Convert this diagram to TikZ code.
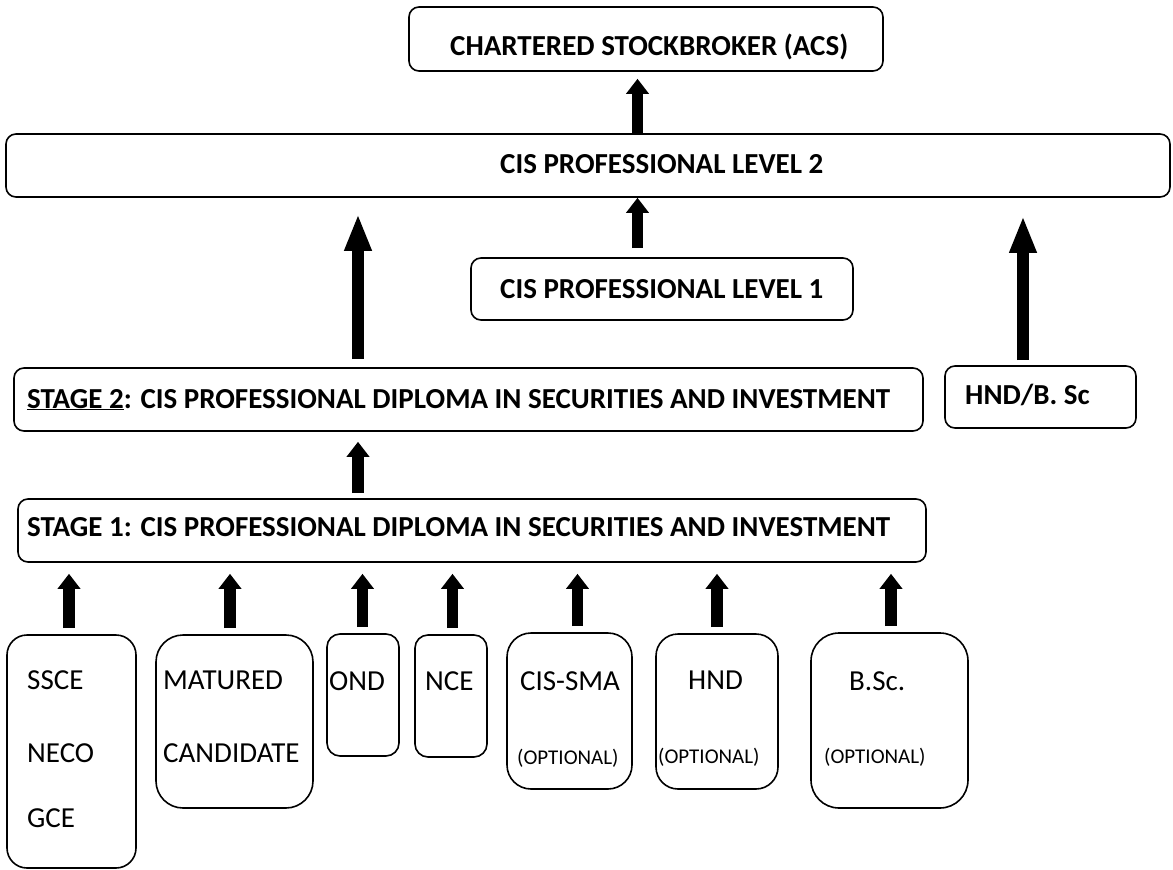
\documentclass[tikz,border=0pt]{standalone}
\usepackage{fontspec}
\setmainfont{Carlito}
\usetikzlibrary{arrows.meta}

\begin{document}
\begin{tikzpicture}[x=1pt,y=-1pt,
  box/.style={draw,line width=1.6pt,rounded corners=10pt,inner sep=0pt},
  hd/.style={anchor=base west,inner sep=0pt,font=\fontsize{29}{34}\selectfont\bfseries},
  lbl/.style={anchor=base west,inner sep=0pt,font=\fontsize{29}{34}\selectfont},
  opt/.style={anchor=base west,inner sep=0pt,font=\fontsize{21}{25}\selectfont},
  uparr/.style={line width=11.5pt,-{Triangle[length=15pt,width=22pt]}},
  bigarr/.style={line width=12.5pt,-{Triangle[length=37pt,width=25pt]}}]
  \useasboundingbox (0,0) rectangle (1173,870);

  % upper levels
  \node[box,minimum width=474,minimum height=64] (acs) at (646,39) {};
  \node[box,minimum width=1164,minimum height=63] (lvl2) at (588,165.5) {};
  \node[box,minimum width=382,minimum height=62] (lvl1) at (662,289) {};
  \node[box,minimum width=909,minimum height=63] (stg2) at (468.5,399.5) {};
  \node[box,minimum width=191,minimum height=62] (hndbsc) at (1040.5,397) {};
  \node[box,minimum width=908,minimum height=63] (stg1) at (472,530.5) {};

  \node[hd] (acstxt) at (450,55) {CHARTERED STOCKBROKER (ACS)};
  \node[hd] (lvl2txt) at (500,173) {CIS PROFESSIONAL LEVEL 2};
  \node[hd] (lvl1txt) at (500,298) {CIS PROFESSIONAL LEVEL 1};
  \node[hd] (stg2txt) at (27,408) {\underline{STAGE 2}: CIS PROFESSIONAL DIPLOMA IN SECURITIES AND INVESTMENT};
  \node[hd] (hndbsctxt) at (965,404) {HND/B. Sc};
  \node[hd] (stg1txt) at (27,536) {STAGE 1: CIS PROFESSIONAL DIPLOMA IN SECURITIES AND INVESTMENT};

  % entry qualifications
  \node[box,rounded corners=20pt,minimum width=129,minimum height=233] (ssce) at (71.5,751.5) {};
  \node[box,rounded corners=27pt,minimum width=157,minimum height=173] (mat) at (234.5,721.5) {};
  \node[box,rounded corners=13pt,minimum width=72,minimum height=122] (ond) at (363,695) {};
  \node[box,rounded corners=13pt,minimum width=72,minimum height=122] (nce) at (451,696) {};
  \node[box,rounded corners=24pt,minimum width=125,minimum height=156] (sma) at (569.5,711) {};
  \node[box,rounded corners=22pt,minimum width=122,minimum height=155] (hnd) at (717,711.5) {};
  \node[box,rounded corners=28pt,minimum width=157,minimum height=175] (bsc) at (889.5,720.5) {};

  \node[lbl] (sscetxt) at (27,689) {SSCE};
  \node[lbl] (necotxt) at (27,762) {NECO};
  \node[lbl] (gcetxt) at (27,827) {GCE};
  \node[lbl] (mattxt) at (163,689) {MATURED};
  \node[lbl] (candtxt) at (163,762) {CANDIDATE};
  \node[lbl] (ondtxt) at (329,690) {OND};
  \node[lbl] (ncetxt) at (425,690) {NCE};
  \node[lbl] (smatxt) at (520,690) {CIS-SMA};
  \node[opt] (smaopt) at (517,764) {(OPTIONAL)};
  \node[lbl] (hndtxt) at (688,689) {HND};
  \node[opt] (hndopt) at (658,763) {(OPTIONAL)};
  \node[lbl] (bsctxt) at (849,690) {B.Sc.};
  \node[opt] (bscopt) at (824,763) {(OPTIONAL)};

  % arrows
  \draw[uparr,shorten >=7pt] ([xshift=-8.5pt]acs.south |- lvl2.north) -- ([xshift=-8.5pt]acs.south);
  \draw[uparr,shorten <=9pt] ([xshift=-24.5pt]lvl1.north) -- ([xshift=-24.5pt]lvl1.north |- lvl2.south);
  \draw[bigarr,shorten <=8pt,shorten >=16pt] ([xshift=-110.5pt]stg2.north) -- ([xshift=-110.5pt]stg2.north |- lvl2.south);
  \draw[bigarr,shorten <=5pt,shorten >=18pt] ([xshift=-17.5pt]hndbsc.north) -- ([xshift=-17.5pt]hndbsc.north |- lvl2.south);
  \draw[uparr,shorten <=5pt,shorten >=10pt] ([xshift=-114pt]stg1.north) -- ([xshift=-114pt]stg1.north |- stg2.south);
  \foreach \b/\dx in {ssce/-2.5,mat/-4.5,ond/-0.5,nce/1.5,sma/8,hnd/0,bsc/1.5}
    \draw[uparr,shorten <=6pt,shorten >=11pt] ([xshift=\dx pt]\b.north) -- ([xshift=\dx pt]\b.north |- stg1.south);
\end{tikzpicture}
\end{document}
